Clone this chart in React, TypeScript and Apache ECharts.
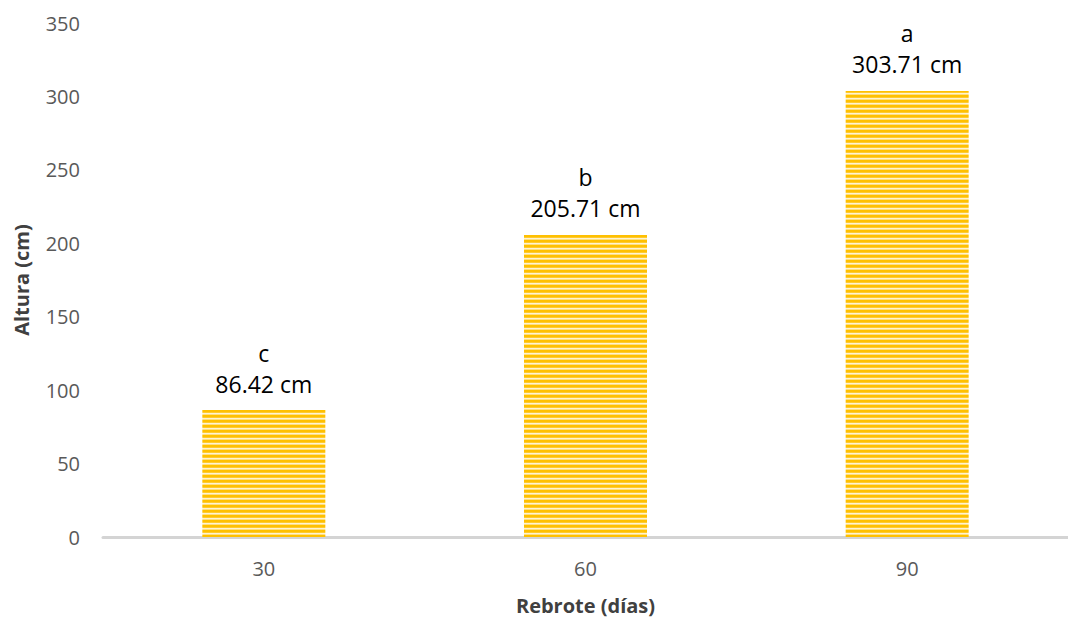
import React, { useEffect, useRef } from "react";
import * as echarts from "echarts";

const categories = ["30", "60", "90"];
const heights = [86.42, 205.71, 303.71];
const letters = ["c", "b", "a"];
const yTicks = { min: 0, max: 350, interval: 50 };

function makeStripes(): HTMLCanvasElement {
  const c = document.createElement("canvas");
  c.width = 8;
  c.height = 5;
  const ctx = c.getContext("2d")!;
  const rows = ["#FFC000", "#FFC000", "#FFCB2E", "#FFF3D0", "#FFE07F"];
  rows.forEach((col, i) => {
    ctx.fillStyle = col;
    ctx.fillRect(0, i, 8, 1);
  });
  return c;
}

export default function App() {
  const ref = useRef<HTMLDivElement>(null);
  useEffect(() => {
    if (!ref.current) return;
    const chart = echarts.init(ref.current, null, { renderer: "svg" });
    const stripes = makeStripes();
    const font = "'Open Sans', 'Noto Sans', sans-serif";
    chart.setOption({
      animation: false,
      backgroundColor: "#ffffff",
      grid: { left: 103, width: 981, top: 23, height: 517, containLabel: false },
      xAxis: {
        type: "category",
        data: categories,
        boundaryGap: true,
        name: "Rebrote (días)",
        nameLocation: "middle",
        nameGap: 58,
        nameTextStyle: { fontFamily: font, fontSize: 20, fontWeight: "bold", color: "#404040" },
        axisLine: { show: true, lineStyle: { color: "#d4d4d4", width: 3 } },
        axisTick: { show: false },
        axisLabel: { fontFamily: font, fontSize: 20, color: "#595959", margin: 21 },
        splitLine: { show: false },
      },
      yAxis: {
        type: "value",
        min: yTicks.min,
        max: yTicks.max,
        interval: yTicks.interval,
        name: "Altura (cm)",
        nameLocation: "middle",
        nameGap: 72,
        nameRotate: 90,
        nameTextStyle: { fontFamily: font, fontSize: 20, fontWeight: "bold", color: "#404040" },
        axisLine: { show: false },
        axisTick: { show: false },
        splitLine: { show: false },
        axisLabel: {
          fontFamily: font,
          fontSize: 20,
          color: "#595959",
          margin: 23,
          padding: [6, 0, 0, 0],
        },
      },
      series: [
        {
          type: "bar",
          data: heights,
          barWidth: 123,
          itemStyle: { color: { image: stripes, repeat: "repeat" } },
          label: {
            show: true,
            position: "top",
            distance: 11,
            fontFamily: font,
            fontSize: 23,
            lineHeight: 31,
            color: "#000000",
            formatter: (p: any) => `${letters[p.dataIndex]}\n${p.value} cm`,
          },
        },
      ],
    });
    return () => chart.dispose();
  }, []);
  return (
    <div
      ref={ref}
      style={{ position: "fixed", left: 0, top: 0, width: 1068, height: 620, background: "#fff" }}
    />
  );
}
